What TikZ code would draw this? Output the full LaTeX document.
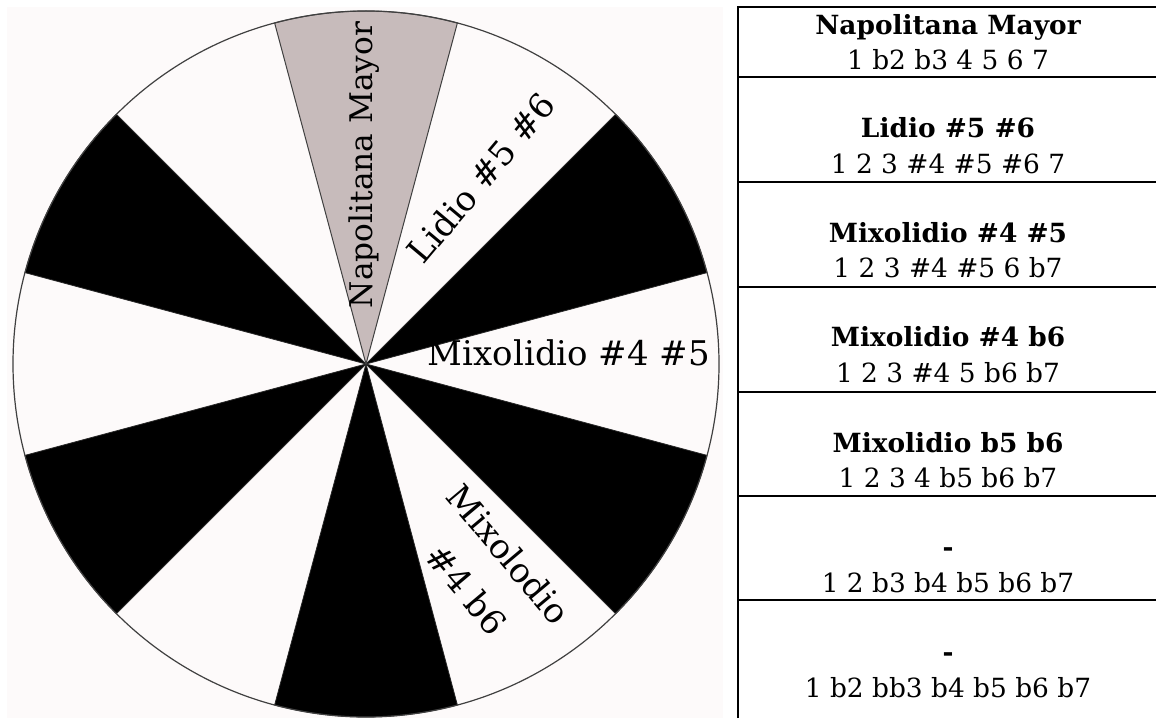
\documentclass[tikz,border=0pt]{standalone}
\usepackage{fontspec}
\setmainfont{DejaVu Serif}
\usetikzlibrary{positioning, calc}

\definecolor{napgray}{RGB}{199,187,187}
\definecolor{panelpink}{RGB}{253,250,250}

\tikzset{
  slice/.style={fill=black, draw=black!85, line width=0.4pt},
  pielabel/.style={inner sep=0pt, font=\fontsize{17}{27.5}\selectfont},
  modename/.style={inner sep=0pt, anchor=base, font=\fontsize{13.2}{15}\selectfont\bfseries},
  modesteps/.style={inner sep=0pt, anchor=base, font=\fontsize{13.2}{15}\selectfont},
  rule/.style={line width=1pt}
}

\begin{document}
\begin{tikzpicture}[x=0.5pt, y=0.5pt]
  \useasboundingbox (0,0) rectangle (1156,718);
  \fill[panelpink] (7,0) rectangle (723,711);

  % the wheel
  \node (c) at (366,354) {};
  \filldraw[slice] (c.center) -- ++(15:353) arc[start angle=15, end angle=45, radius=176.5pt] -- cycle;
  \filldraw[slice] (c.center) -- ++(135:353) arc[start angle=135, end angle=165, radius=176.5pt] -- cycle;
  \filldraw[slice] (c.center) -- ++(195:353) arc[start angle=195, end angle=225, radius=176.5pt] -- cycle;
  \filldraw[slice] (c.center) -- ++(255:353) arc[start angle=255, end angle=285, radius=176.5pt] -- cycle;
  \filldraw[slice] (c.center) -- ++(315:353) arc[start angle=315, end angle=345, radius=176.5pt] -- cycle;
  \filldraw[fill=napgray, draw=black!75, line width=0.5pt] (c.center) -- ++(75:353) arc[start angle=75, end angle=105, radius=176.5pt] -- cycle;
  \draw[black!75, line width=0.6pt] (c.center) circle[radius=176.5pt];

  \node[pielabel, font=\fontsize{15.6}{27.5}\selectfont, rotate=90, anchor=base] (nap) at (372.5,553) {Napolitana Mayor};
  \node[pielabel, rotate=50] (lid) at (481,540) {Lidio \#5 \#6};
  \node[pielabel, anchor=base] (mix45) at (569,352) {Mixolidio \#4 \#5};
  \node[pielabel, rotate=-50, align=center] (mixb6) at (488,146) {Mixolodio\\\#4 b6};

  % the table
  \draw[rule] (738,0) -- (738,711);
  \draw[rule] (737,711) -- (1156,711);
  \draw[rule] (738,641) -- (1156,641);
  \draw[rule] (738,536) -- (1156,536);
  \draw[rule] (738,431) -- (1156,431);
  \draw[rule] (738,326) -- (1156,326);
  \draw[rule] (738,222) -- (1156,222);
  \draw[rule] (738,118) -- (1156,118);

  \node[modename] (n1) at (948,683) {Napolitana Mayor};
  \node[modesteps] (s1) at (948,648) {1 b2 b3 4 5 6 7};
  \node[modename] (n2) at (948,580) {Lidio \#5 \#6};
  \node[modesteps] (s2) at (948,544) {1 2 3 \#4 \#5 \#6 7};
  \node[modename] (n3) at (948,475) {Mixolidio \#4 \#5};
  \node[modesteps] (s3) at (948,440) {1 2 3 \#4 \#5 6 b7};
  \node[modename] (n4) at (948,371) {Mixolidio \#4 b6};
  \node[modesteps] (s4) at (948,335) {1 2 3 \#4 5 b6 b7};
  \node[modename] (n5) at (948,265) {Mixolidio b5 b6};
  \node[modesteps] (s5) at (948,230) {1 2 3 4 b5 b6 b7};
  \node[modename] (n6) at (948,162) {-};
  \node[modesteps] (s6) at (948,126) {1 2 b3 b4 b5 b6 b7};
  \node[modename] (n7) at (948,57) {-};
  \node[modesteps] (s7) at (948,21) {1 b2 bb3 b4 b5 b6 b7};
\end{tikzpicture}
\end{document}
